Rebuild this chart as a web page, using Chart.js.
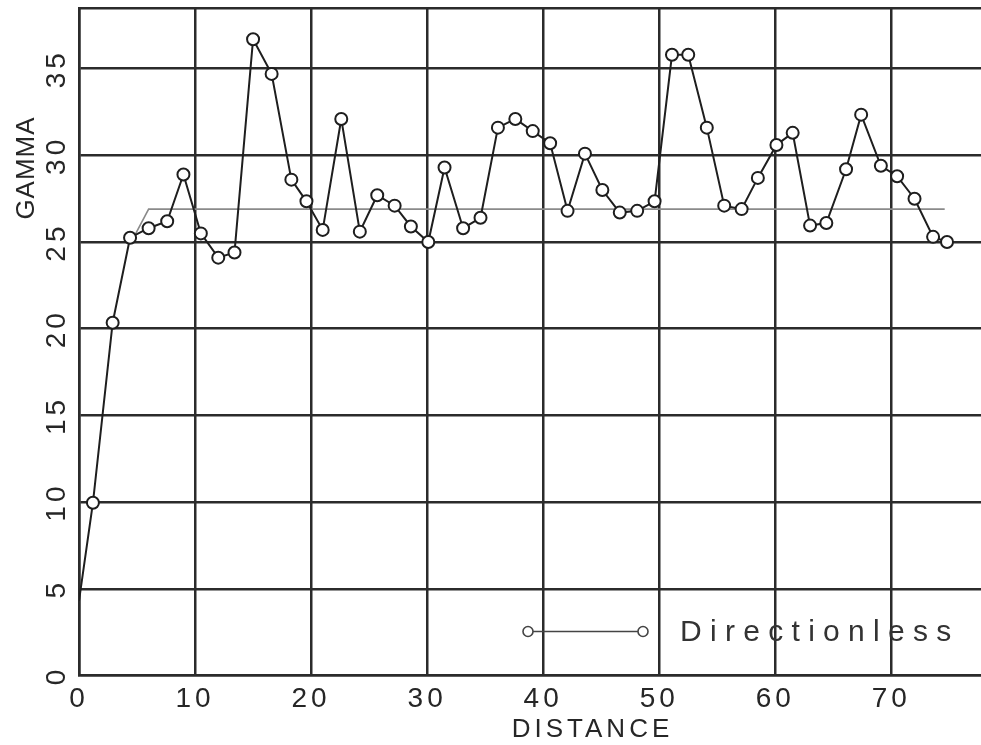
<!DOCTYPE html>
<html><head><meta charset="utf-8">
<script src="https://cdn.jsdelivr.net/npm/chart.js@4/dist/chart.umd.min.js"></script>
<style>html,body{margin:0;padding:0;background:#fff;overflow:hidden;width:981px;height:745px}canvas{display:block}</style>
</head><body><canvas id="c" width="1114" height="745"></canvas>
<script>
// ---- data ----
const distance = [0, 1.2, 2.9, 4.4, 6.0, 7.6, 9.0, 10.5, 12.0, 13.4,
  15.0, 16.6, 18.3, 19.6, 21.0, 22.6, 24.2, 25.7, 27.2, 28.6,
  30.1, 31.5, 33.1, 34.6, 36.1, 37.6, 39.1, 40.6, 42.1, 43.6,
  45.1, 46.6, 48.1, 49.6, 51.1, 52.5, 54.1, 55.6, 57.1, 58.5,
  60.1, 61.5, 63.0, 64.4, 66.1, 67.4, 69.1, 70.5, 72.0, 73.6, 74.8];
const gamma = [4.3, 9.96, 20.35, 25.25, 25.8, 26.2, 28.9, 25.5, 24.1, 24.4,
  36.7, 34.7, 28.6, 27.35, 25.7, 32.1, 25.6, 27.7, 27.1, 25.9,
  25.0, 29.3, 25.8, 26.4, 31.6, 32.1, 31.4, 30.7, 26.8, 30.1,
  28.0, 26.7, 26.8, 27.35, 35.8, 35.8, 31.6, 27.1, 26.9, 28.7,
  30.6, 31.3, 25.95, 26.1, 29.2, 32.35, 29.4, 28.8, 27.5, 25.3, 25.0];
const modelDistance = [4.5, 6.0, 74.6];
const modelGamma = [25.0, 26.9, 26.9];
const xTickValues = [0, 10, 20, 30, 40, 50, 60, 70];
const yTickValues = [0, 5, 10, 15, 20, 25, 30, 35];
const xTitle = 'DISTANCE';
const yTitle = 'GAMMA';
const seriesName = 'Directionless';

const FONT = "'Liberation Sans', Arial, sans-serif";
const INK = '#262626';
const GRID = '#2b2b2b';

const spacingPlugin = {
  id: 'spacing',
  beforeLayout(chart) { chart.ctx.letterSpacing = '4px'; },
  beforeDraw(chart) { chart.ctx.letterSpacing = '4px'; }
};

const decorPlugin = {
  id: 'decor',
  afterDraw(chart) {
    const ctx = chart.ctx, a = chart.chartArea;
    // y-axis title
    ctx.save();
    ctx.letterSpacing = '1px';
    ctx.font = '26px ' + FONT;
    ctx.fillStyle = INK;
    ctx.translate(a.left - 52, a.top + 160);
    ctx.rotate(-Math.PI / 2);
    ctx.textAlign = 'center';
    ctx.textBaseline = 'middle';
    ctx.fillText(yTitle, 0, 0);
    ctx.restore();
    // legend
    ctx.save();
    const ly = a.bottom - 44;
    const x1 = a.left + 449, x2 = a.left + 564;
    ctx.strokeStyle = '#444';
    ctx.lineWidth = 1.3;
    ctx.beginPath();
    ctx.moveTo(x1 + 5, ly); ctx.lineTo(x2 - 5, ly);
    ctx.stroke();
    ctx.lineWidth = 1.6;
    [x1, x2].forEach(x => { ctx.beginPath(); ctx.arc(x, ly, 5, 0, Math.PI * 2); ctx.stroke(); });
    ctx.letterSpacing = '8.3px';
    ctx.font = '30px ' + FONT;
    ctx.fillStyle = '#333';
    ctx.textAlign = 'left';
    ctx.textBaseline = 'middle';
    ctx.fillText(seriesName, a.left + 601, ly + 1);
    ctx.restore();
  }
};

new Chart(document.getElementById('c'), {
  type: 'line',
  data: {
    datasets: [
      {
        label: seriesName,
        data: distance.map((x, i) => ({x, y: gamma[i]})),
        borderColor: '#1e1e1e',
        borderWidth: 2,
        pointRadius: c => c.dataIndex === 0 ? 0 : 6,
        pointBorderWidth: 2,
        pointBorderColor: '#1e1e1e',
        pointBackgroundColor: '#ffffff',
        tension: 0,
        order: 0
      },
      {
        label: 'model',
        data: modelDistance.map((x, i) => ({x, y: modelGamma[i]})),
        borderColor: '#8a8a8a',
        borderWidth: 1.6,
        pointRadius: 0,
        tension: 0,
        order: 1
      }
    ]
  },
  options: {
    responsive: false,
    animation: false,
    layout: {padding: 0},
    plugins: {legend: {display: false}, tooltip: {enabled: false}},
    scales: {
      x: {
        type: 'linear', position: 'bottom', min: 0, max: 88.5,
        afterBuildTicks: s => { s.ticks = xTickValues.map(v => ({value: v})); },
        afterFit: s => { s.height = 69.5; s.paddingLeft = 0; s.paddingRight = 0; },
        grid: {color: GRID, lineWidth: 2.5, drawTicks: false},
        border: {display: true, color: GRID, width: 2.5},
        ticks: {font: {family: FONT, size: 28}, color: INK, padding: 7, maxRotation: 0, autoSkip: false},
        title: {display: true, text: xTitle, font: {family: FONT, size: 26}, color: INK, padding: {top: 0, bottom: 0}}
      },
      x2: {
        type: 'linear', position: 'top', min: 0, max: 88.5,
        afterFit: s => { s.height = 8; s.paddingLeft = 0; s.paddingRight = 0; },
        grid: {display: false, drawTicks: false},
        ticks: {display: false},
        border: {display: true, color: GRID, width: 2.5}
      },
      y: {
        type: 'linear', position: 'left', min: 0, max: 38.5,
        afterBuildTicks: s => { s.ticks = yTickValues.map(v => ({value: v})); },
        afterFit: s => { s.width = 79; s.paddingTop = 0; s.paddingBottom = 0; },
        grid: {color: GRID, lineWidth: 2.5, drawTicks: false},
        border: {display: true, color: GRID, width: 2.5},
        ticks: {font: {family: FONT, size: 28}, color: INK, padding: 2, minRotation: 90, maxRotation: 90, crossAlign: 'center', autoSkip: false}
      }
    }
  },
  plugins: [spacingPlugin, decorPlugin]
});
</script>
</body></html>
